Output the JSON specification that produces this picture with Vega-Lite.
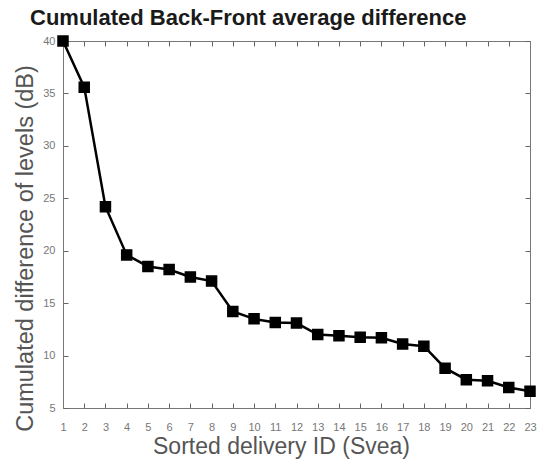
{
  "$schema": "https://vega.github.io/schema/vega-lite/v6.json",
  "width": 467,
  "height": 367,
  "autosize": "none",
  "padding": {"left": 63, "top": 41, "right": 8, "bottom": 52},
  "background": "white",
  "config": {"view": {"stroke": null}, "font": "Liberation Sans"},
  "title": {
    "text": "Cumulated Back-Front average difference",
    "fontSize": 22,
    "fontWeight": "bold",
    "color": "#1a1a1a",
    "anchor": "start",
    "frame": "group",
    "dx": -33,
    "offset": 3
  },
  "data": {"values": [
    {"id": 1, "v": 40.0},
    {"id": 2, "v": 35.6},
    {"id": 3, "v": 24.2},
    {"id": 4, "v": 19.6},
    {"id": 5, "v": 18.5},
    {"id": 6, "v": 18.2},
    {"id": 7, "v": 17.5},
    {"id": 8, "v": 17.1},
    {"id": 9, "v": 14.2},
    {"id": 10, "v": 13.5},
    {"id": 11, "v": 13.15},
    {"id": 12, "v": 13.1},
    {"id": 13, "v": 12.0},
    {"id": 14, "v": 11.9},
    {"id": 15, "v": 11.75},
    {"id": 16, "v": 11.7},
    {"id": 17, "v": 11.1},
    {"id": 18, "v": 10.9},
    {"id": 19, "v": 8.8},
    {"id": 20, "v": 7.7},
    {"id": 21, "v": 7.6},
    {"id": 22, "v": 6.95},
    {"id": 23, "v": 6.6}
  ]},
  "layer": [
    {
      "mark": {"type": "line", "color": "black", "strokeWidth": 2.5},
      "encoding": {
        "x": {
          "field": "id", "type": "quantitative",
          "scale": {"domain": [1, 23], "nice": false, "zero": false},
          "axis": {
            "orient": "bottom",
            "values": [1,2,3,4,5,6,7,8,9,10,11,12,13,14,15,16,17,18,19,20,21,22,23],
            "title": "Sorted delivery ID (Svea)",
            "titleFontSize": 23, "titleFontWeight": "normal", "titleColor": "#555555",
            "titleX": 218, "titleY": 45, "titleAlign": "center", "titleBaseline": "alphabetic",
            "labelFontSize": 11, "labelColor": "#777777", "labelPadding": 18, "labelFlush": false,
            "tickSize": -5, "tickColor": "#666666",
            "domainColor": "#777777", "grid": false
          }
        },
        "y": {
          "field": "v", "type": "quantitative",
          "scale": {"domain": [5, 40], "nice": false, "zero": false},
          "axis": {
            "orient": "left",
            "values": [5,10,15,20,25,30,35,40],
            "title": "Cumulated difference of levels (dB)",
            "titleFontSize": 23.5, "titleFontWeight": "normal", "titleColor": "#555555",
            "titleX": -31, "titleY": 207, "titleAngle": -90, "titleAlign": "center", "titleBaseline": "alphabetic",
            "labelFontSize": 11, "labelColor": "#777777", "labelPadding": 13, "labelFlush": false,
            "tickSize": -5, "tickColor": "#666666",
            "domainColor": "#777777", "grid": false
          }
        }
      }
    },
    {
      "mark": {"type": "point", "shape": "square", "filled": true, "color": "black", "size": 100, "strokeWidth": 1.5, "stroke": "black", "opacity": 1},
      "encoding": {
        "x": {
          "field": "id", "type": "quantitative",
          "scale": {"domain": [1, 23], "nice": false, "zero": false},
          "axis": {
            "orient": "top", "title": "", "labelExpr": "''",
            "values": [1,2,3,4,5,6,7,8,9,10,11,12,13,14,15,16,17,18,19,20,21,22,23],
            "tickSize": -5, "tickColor": "#666666",
            "domainColor": "#777777", "grid": false
          }
        },
        "y": {
          "field": "v", "type": "quantitative",
          "scale": {"domain": [5, 40], "nice": false, "zero": false},
          "axis": {
            "orient": "right", "title": "", "labelExpr": "''",
            "values": [5,10,15,20,25,30,35,40],
            "tickSize": -5, "tickColor": "#666666",
            "domainColor": "#777777", "grid": false
          }
        }
      }
    }
  ],
  "resolve": {"scale": {"x": "independent", "y": "independent"}, "axis": {"x": "independent", "y": "independent"}}
}
